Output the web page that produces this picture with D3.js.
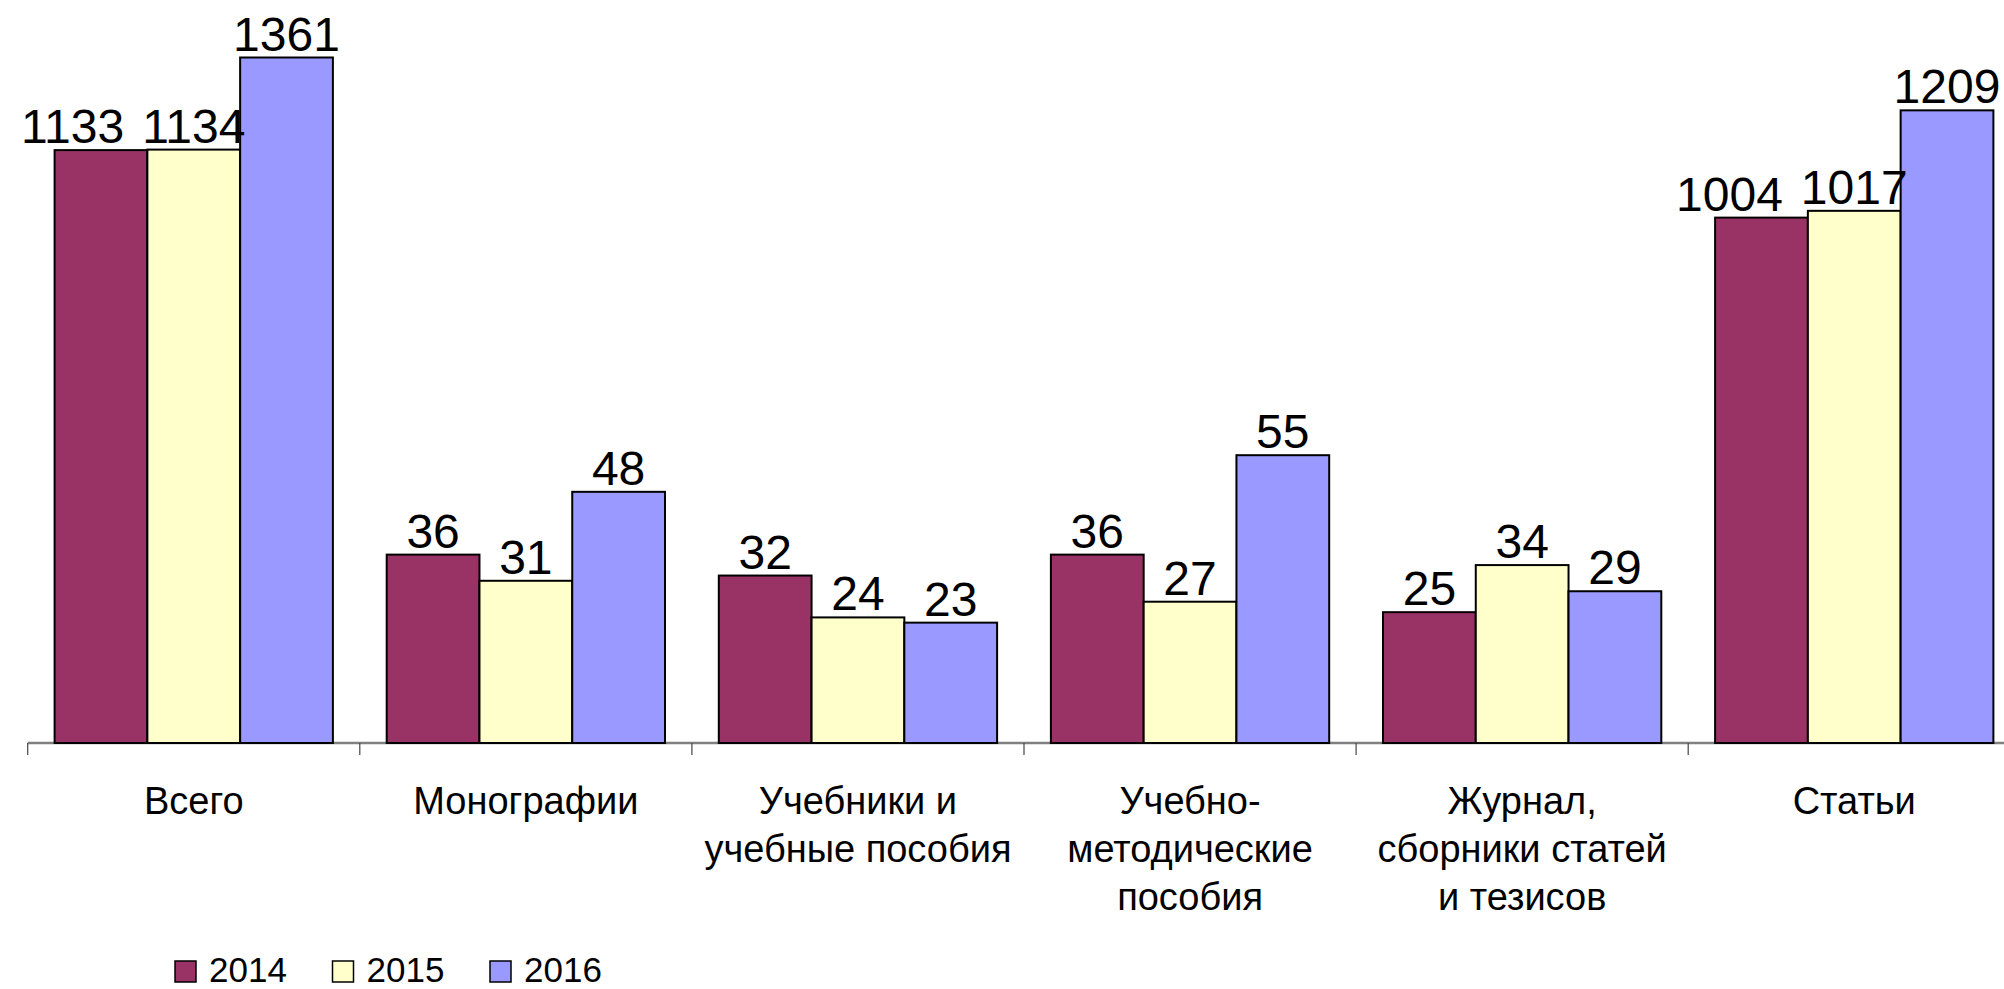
<!DOCTYPE html>
<html>
<head>
<meta charset="utf-8">
<script src="https://cdn.jsdelivr.net/npm/d3@7"></script>
<style>
  body { margin: 0; background: #fff; }
  svg { display: block; font-family: "Liberation Sans", Arial, sans-serif; }
</style>
</head>
<body>
<div class="canvas"></div>
<script>
// data
const categories = [
  ['Всего'],
  ['Монографии'],
  ['Учебники и', 'учебные пособия'],
  ['Учебно-', 'методические', 'пособия'],
  ['Журнал,', 'сборники статей', 'и тезисов'],
  ['Статьи']
];
const years = ['2014', '2015', '2016'];
const values2014 = [1133, 36, 32, 36, 25, 1004];
const values2015 = [1134, 31, 24, 27, 34, 1017];
const values2016 = [1361, 48, 23, 55, 29, 1209];
// the original chart plots the two big groups divided by 10
const plotDivisor = [10, 1, 1, 1, 1, 10];
const colors = ['#993366', '#FFFFCC', '#9999FF'];

const series = [values2014, values2015, values2016];
const catKeys = categories.map(c => c.join(' '));

const W = 2004, H = 989;
const svg = d3.select('.canvas')
    .append('svg')
    .attr('width', W)
    .attr('height', H);

const baseY = 743;
const plotTop = 57.5;

// scales
const x0 = d3.scaleBand()
    .domain(catKeys)
    .range([27.7, 27.7 + 6 * 332.1]);

const x1 = d3.scaleBand()
    .domain(years)
    .range([0, x0.bandwidth()])
    .paddingInner(0)
    .paddingOuter(0.29);

const y = d3.scaleLinear()
    .domain([0, 131])
    .range([baseY, plotTop])
    .clamp(true); // bars above the axis max are cut at the plot top

// rows of bars
const rows = [];
catKeys.forEach((c, i) => {
  years.forEach((yr, j) => {
    rows.push({cat: c, ci: i, year: yr, si: j, value: series[j][i], plot: series[j][i] / plotDivisor[i]});
  });
});

// axis (Excel style: ticks between categories)
const xAxisGroup = svg.append('g')
    .attr('transform', `translate(0, ${baseY})`)
    .call(d3.axisBottom(x0).tickSize(0).tickFormat(''));
xAxisGroup.select('.domain')
    .attr('d', `M${x0.range()[0]},0H${W + 20}`)
    .attr('stroke', '#808080')
    .attr('stroke-width', 2.5);

const tickXs = catKeys.map(c => x0(c));
svg.append('g').selectAll('line')
    .data(tickXs)
    .join('line')
    .attr('x1', d => d).attr('x2', d => d)
    .attr('y1', baseY).attr('y2', baseY + 12)
    .attr('stroke', '#444')
    .attr('stroke-width', 1.2);

// bars
svg.append('g').selectAll('rect')
    .data(rows)
    .join('rect')
    .attr('x', d => x0(d.cat) + x1(d.year))
    .attr('y', d => y(d.plot))
    .attr('width', x1.bandwidth())
    .attr('height', d => baseY - y(d.plot))
    .attr('fill', d => colors[d.si])
    .attr('stroke', '#000')
    .attr('stroke-width', 2);

// value labels
const labelGap = 7;
const labels = svg.append('g').selectAll('text')
    .data(rows)
    .join('text')
    .attr('text-anchor', 'middle')
    .attr('font-size', 48)
    .attr('fill', '#000')
    .text(d => d.value);

labels.each(function(d) {
  d.lx = x0(d.cat) + x1(d.year) + x1.bandwidth() / 2;
  d.ly = y(d.plot) - labelGap;
  d.w = this.getComputedTextLength();
});

// push a label left when it runs into its right neighbour at the same height
const byCat = d3.group(rows, d => d.ci);
byCat.forEach(list => {
  for (let k = list.length - 2; k >= 0; k--) {
    const a = list[k], b = list[k + 1];
    const overlapX = (a.lx + a.w / 2) - (b.lx - b.w / 2);
    if (overlapX > -15 && Math.abs(a.ly - b.ly) < 36) {
      a.lx -= overlapX + 18;
    }
  }
});

labels
    .attr('x', d => d.lx)
    .attr('y', d => d.ly);

// category labels
const catLabels = svg.append('g').selectAll('text')
    .data(categories)
    .join('text')
    .attr('text-anchor', 'middle')
    .attr('font-size', 38)
    .attr('fill', '#000')
    .attr('x', (d, i) => x0(catKeys[i]) + x0.bandwidth() / 2)
    .attr('y', 814);

catLabels.selectAll('tspan')
    .data(d => d)
    .join('tspan')
    .attr('x', function() { return this.parentNode.getAttribute('x'); })
    .attr('dy', (d, i) => i === 0 ? 0 : 48)
    .text(d => d);

// legend
const legend = svg.append('g').selectAll('g')
    .data(years)
    .join('g')
    .attr('transform', (d, i) => `translate(${175 + i * 157.5}, 961)`);

legend.append('rect')
    .attr('width', 21)
    .attr('height', 21)
    .attr('fill', (d, i) => colors[i])
    .attr('stroke', '#000')
    .attr('stroke-width', 1.5);

legend.append('text')
    .attr('x', 34)
    .attr('y', 20.5)
    .attr('font-size', 35)
    .attr('fill', '#000')
    .text(d => d);
</script>
</body>
</html>
